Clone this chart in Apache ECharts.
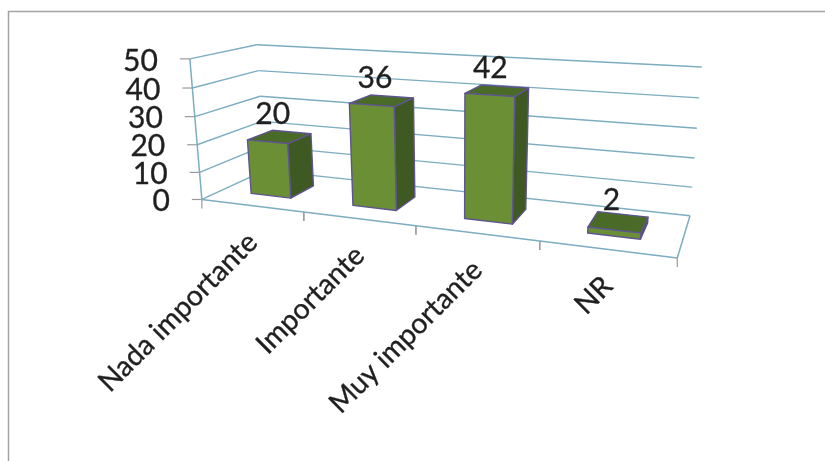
<!DOCTYPE html>
<html>
<head>
<meta charset="utf-8">
<style>html,body{margin:0;padding:0;background:#fff}#chart{width:825px;height:461px}</style>
<script src="https://cdn.jsdelivr.net/npm/echarts@6/dist/echarts.min.js"></script>
</head>
<body>
<div id="chart"></div>
<script>
const categories = ['Nada importante', 'Importante', 'Muy importante', 'NR'];
const values = [20, 36, 42, 2];
const valueTicks = [0, 10, 20, 30, 40, 50];

// Corners of the chart box as seen by the camera: [u, v, w] -> [px, py].
// u runs along the categories, v up the value axis, w into the depth.
const boxCorners = [
  [[0, 0, 0], [201.7, 198]], [[1, 0, 0], [677.3, 259.3]],
  [[0, 0, 1], [265, 172]],   [[1, 0, 1], [690, 214.3]],
  [[0, 1, 0], [190, 59.3]],  [[0, 1, 1], [256.7, 44]],
  [[1, 1, 1], [701.7, 67.3]]
];

// Least-squares fit of the 3x4 projection matrix (last element fixed at 1).
function fitProjection(pairs) {
  const rows = [], rhs = [];
  pairs.forEach(([[u, v, w], [x, y]]) => {
    rows.push([u, v, w, 1, 0, 0, 0, 0, -x * u, -x * v, -x * w]); rhs.push(x);
    rows.push([0, 0, 0, 0, u, v, w, 1, -y * u, -y * v, -y * w]); rhs.push(y);
  });
  const n = 11;
  const m = [];
  for (let i = 0; i < n; i++) {
    m.push([]);
    for (let j = 0; j < n; j++) {
      m[i].push(rows.reduce((s, r) => s + r[i] * r[j], 0) + (i === j ? 1e-9 : 0));
    }
    m[i].push(rows.reduce((s, r, k) => s + r[i] * rhs[k], 0));
  }
  for (let c = 0; c < n; c++) {
    let pivot = c;
    for (let r = c + 1; r < n; r++) if (Math.abs(m[r][c]) > Math.abs(m[pivot][c])) pivot = r;
    [m[c], m[pivot]] = [m[pivot], m[c]];
    for (let r = 0; r < n; r++) {
      if (r === c) continue;
      const f = m[r][c] / m[c][c];
      for (let k = c; k <= n; k++) m[r][k] -= f * m[c][k];
    }
  }
  return m.map((row, i) => row[n] / row[i]);
}
const camera = fitProjection(boxCorners);
function project(u, v, w) {
  const c = camera, d = c[8] * u + c[9] * v + c[10] * w + 1;
  return [(c[0] * u + c[1] * v + c[2] * w + c[3]) / d,
          (c[4] * u + c[5] * v + c[6] * w + c[7]) / d];
}

// Flat cartesian positions from the hidden axes become box coordinates.
function axisToBox(api, rect, cat, val) {
  const p = api.coord([cat, val]);
  return [(p[0] - rect.x) / rect.width, (rect.y + rect.height - p[1]) / rect.height];
}

const fontFamily = 'Lato, "Open Sans", sans-serif';
const textColor = '#1f1f1f';
const gridColor = '#7cadc0';
const tickColor = '#9a9a9a';
const barDepth = [0.3, 0.7];
const barShare = 0.4;
const face = { front: '#6b8f35', top: '#4a6b28', side: '#3e5a22', edge: '#5f5490' };

function line(a, b, stroke, lineWidth) {
  return {
    type: 'line',
    shape: { x1: a[0], y1: a[1], x2: b[0], y2: b[1] },
    style: { stroke, lineWidth: lineWidth || 1.4, fill: null }
  };
}
function text(x, y, str, size, align, rotation) {
  return {
    type: 'text', x, y, rotation: rotation || 0,
    style: {
      text: str, fontSize: size, fontFamily, fill: textColor, align, verticalAlign: 'middle',
      stroke: textColor, lineWidth: 0.35
    }
  };
}
function quad(points, fill) {
  return {
    type: 'polygon',
    shape: { points },
    style: { fill, stroke: face.edge, lineWidth: 1.4, lineJoin: 'round' }
  };
}

// Walls: one left-wall and one back-wall rule per value tick, plus tick and label.
function renderValueTick(params, api) {
  const val = api.value(0);
  const v = axisToBox(api, params.coordSys, 0, val)[1];
  const front = project(0, v, 0), corner = project(0, v, 1), back = project(1, v, 1);
  return {
    type: 'group',
    children: [
      line(front, corner, gridColor),
      line(corner, back, gridColor),
      line([front[0] - 10, front[1]], front, tickColor, 1.2),
      text(front[0] - 32, front[1] + 2, String(val), 30, 'right')
    ]
  };
}

// Floor outline, category ticks and rotated category names.
function renderCategory(params, api) {
  const i = api.value(0);
  const rect = params.coordSys;
  const band = api.size([1, 0])[0] / rect.width;
  const mid = axisToBox(api, rect, i, 0)[0];
  const start = mid - band / 2, end = mid + band / 2;
  const a = project(start, 0, 0), b = project(end, 0, 0), c = project(mid, 0, 0);
  const children = [
    line(a, b, gridColor, 1.5),
    line(a, [a[0], a[1] + 9], tickColor, 1.2),
    line(b, [b[0], b[1] + 9], tickColor, 1.2),
    text(c[0] + 1, c[1] + 32, categories[i], 28.5, 'right', Math.PI / 4)
  ];
  if (i === 0) children.push(line(project(0, 0, 0), project(0, 1, 0), gridColor, 1.5));
  if (i === categories.length - 1) children.push(line(b, project(1, 0, 1), gridColor, 1.5));
  return { type: 'group', children };
}

// One shaded box per category with its value above the top face.
function renderBar(params, api) {
  const i = api.value(0), val = api.value(1);
  const rect = params.coordSys;
  const band = api.size([1, 0])[0] / rect.width;
  const mid = axisToBox(api, rect, i, 0)[0];
  const top = axisToBox(api, rect, i, val)[1];
  const l = mid - band * barShare / 2, r = mid + band * barShare / 2;
  const [wf, wb] = barDepth;
  const fbl = project(l, 0, wf), fbr = project(r, 0, wf), ftl = project(l, top, wf), ftr = project(r, top, wf);
  const bbr = project(r, 0, wb), btr = project(r, top, wb), btl = project(l, top, wb);
  const anchor = project(mid, top, 0.5);
  return {
    type: 'group',
    children: [
      quad([fbr, bbr, btr, ftr], face.side),
      quad([ftl, ftr, btr, btl], face.top),
      quad([fbl, fbr, ftr, ftl], face.front),
      text(anchor[0] - 7, anchor[1] - 22, String(val), 30, 'center')
    ]
  };
}

const chart = echarts.init(document.getElementById('chart'), null, { renderer: 'canvas' });
chart.setOption({
  animation: false,
  backgroundColor: '#ffffff',
  graphic: [{
    type: 'polyline', silent: true,
    shape: { points: [[8.5, 461], [8.5, 11.5], [825, 11.5]] },
    style: { stroke: '#a3a3a3', lineWidth: 1.5, fill: null }
  }],
  grid: { left: 100, right: 100, top: 60, bottom: 100 },
  xAxis: { type: 'category', data: categories, show: false },
  yAxis: { type: 'value', min: 0, max: 50, interval: 10, show: false },
  series: [
    { type: 'custom', silent: true, renderItem: renderValueTick, data: valueTicks.map(t => [t]), encode: { x: null, y: 0 }, z: 1, clip: false },
    { type: 'custom', silent: true, renderItem: renderCategory, data: categories.map((_, i) => [i]), encode: { x: 0 }, z: 2, clip: false },
    { type: 'custom', silent: true, renderItem: renderBar, data: values.map((v, i) => [i, v]), encode: { x: 0, y: 1 }, z: 3, clip: false }
  ]
});
</script>
</body>
</html>
